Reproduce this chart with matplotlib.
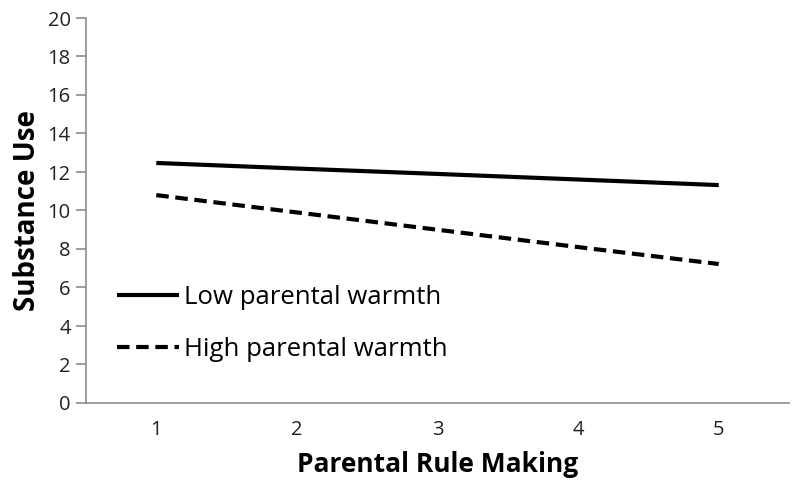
import matplotlib
matplotlib.use('Agg')
import matplotlib.pyplot as plt

# data
categories = [1, 2, 3, 4, 5]
low_warmth = [12.47, 12.18, 11.90, 11.61, 11.32]
high_warmth = [10.80, 9.90, 9.00, 8.10, 7.22]
y_ticks = [0, 2, 4, 6, 8, 10, 12, 14, 16, 18, 20]

plt.rcParams['font.family'] = ['Open Sans', 'DejaVu Sans']

fig = plt.figure(figsize=(8, 4.86), dpi=100)
ax = fig.add_axes([86 / 800, 1 - 403 / 486, 703 / 800, 385 / 486])

x = list(range(len(categories)))
ax.plot(x, low_warmth, color='black', lw=3, solid_capstyle='butt', label='Low parental warmth')
ax.plot(x, high_warmth, color='black', lw=3, dashes=(3, 1.6), dash_capstyle='butt',
        label='High parental warmth')

ax.set_xlim(-0.5, len(categories) - 0.5)
ax.set_ylim(0, 20)
ax.set_yticks(y_ticks)
ax.set_xticks(x)
ax.set_xticklabels([str(c) for c in categories])

for s in ['top', 'right']:
    ax.spines[s].set_visible(False)
for s in ['left', 'bottom']:
    ax.spines[s].set_color('#8c8c8c')
    ax.spines[s].set_linewidth(1.2)
ax.tick_params(axis='y', length=7, color='#8c8c8c', width=1.2, labelsize=14.5, pad=4, labelcolor='#222222')
ax.tick_params(axis='x', length=0, labelsize=14.5, pad=12, labelcolor='#222222')

ax.set_ylabel('Substance Use', fontsize=20, fontweight='bold', labelpad=4)
ax.set_xlabel('Parental Rule Making', fontsize=19, fontweight='bold', labelpad=8)

leg = ax.legend(loc='lower left', bbox_to_anchor=(0.03, 0.08), frameon=False, fontsize=18.5,
                handlelength=2.4, handletextpad=0.2, labelspacing=1.05, borderaxespad=0)

fig.savefig('out.png', dpi=100)
